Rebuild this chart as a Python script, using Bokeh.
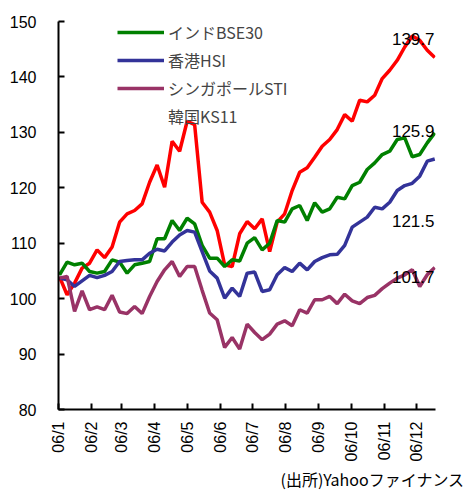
import pandas as pd
from math import pi
from bokeh.plotting import figure
from bokeh.models import (FixedTicker, Legend, LegendItem, Label, Range1d,
                          ColumnDataSource, Title)
from bokeh.embed import file_html
from bokeh.resources import INLINE

# ---- data -------------------------------------------------------------
BASE = pd.Timestamp("2006-01-01")
DATES = pd.date_range("2006-01-02", periods=51, freq="7D")

RED = [103.9, 100.7, 102.8, 105.5, 106.4, 108.8, 107.4, 109.3, 113.8, 115.3,
       115.9, 117.1, 121.0, 124.1, 120.1, 128.4, 126.6, 132.0, 131.4, 117.4,
       115.6, 112.3, 106.1, 105.8, 111.7, 113.9, 112.6, 114.4, 108.5, 113.8,
       115.3, 119.5, 122.8, 123.6, 125.5, 127.5, 128.7, 130.5, 133.2, 132.0,
       135.8, 135.5, 136.7, 139.7, 141.2, 143.0, 145.4, 147.4, 146.6, 144.8,
       143.5]
BSE30 = [104.3, 106.6, 106.1, 106.4, 104.9, 104.6, 104.9, 107.0, 106.6, 104.6,
         106.1, 106.4, 106.7, 110.8, 110.8, 114.1, 112.3, 114.5, 113.5, 109.6,
         107.3, 107.3, 105.8, 107.0, 106.8, 110.0, 111.0, 108.8, 110.0, 114.1,
         113.8, 116.2, 116.8, 114.1, 117.3, 115.6, 116.2, 118.3, 118.0, 120.4,
         121.0, 123.3, 124.5, 126.0, 126.6, 128.7, 129.0, 125.6, 126.0, 128.1,
         129.9]
HSI = [103.7, 103.4, 102.2, 103.2, 104.2, 103.8, 104.2, 104.9, 106.7, 106.9,
       107.0, 107.0, 108.2, 108.9, 108.6, 110.2, 111.5, 112.3, 112.0, 108.5,
       105.0, 103.7, 100.1, 101.9, 100.4, 104.6, 104.8, 101.3, 101.6, 104.3,
       105.6, 104.9, 106.4, 105.2, 106.7, 107.4, 107.9, 108.0, 109.6, 112.9,
       113.8, 114.7, 116.5, 116.2, 117.4, 119.5, 120.4, 120.8, 122.1, 124.8,
       125.2]
STI = [103.7, 104.0, 97.7, 101.4, 98.0, 98.5, 98.0, 100.6, 97.6, 97.3,
       98.6, 97.3, 100.4, 103.1, 105.2, 106.7, 104.0, 105.8, 105.8, 101.5,
       97.4, 96.2, 91.2, 93.0, 90.9, 95.4, 93.9, 92.6, 93.6, 95.4,
       96.0, 95.1, 98.0, 97.4, 99.8, 99.8, 100.4, 99.1, 100.8, 99.6,
       99.1, 100.2, 100.6, 101.8, 102.8, 103.7, 104.3, 105.2, 102.2, 104.3,
       105.6]

LEGEND_LABELS = ["インドBSE30", "香港HSI", "シンガポールSTI", "韓国KS11"]
COLORS = ["#FF0000", "#008000", "#333399", "#993366"]

MONTH_STARTS = ["2006-01-01", "2006-02-01", "2006-03-01", "2006-04-01",
                "2006-05-01", "2006-06-01", "2006-07-01", "2006-08-01",
                "2006-09-01", "2006-10-01", "2006-11-01", "2006-12-01"]
X_TICK_LABELS = ["06/1", "06/2", "06/3", "06/4", "06/5", "06/6",
                 "06/7", "06/8", "06/9", "06/10", "06/11", "06/12"]
Y_TICKS = [80, 90, 100, 110, 120, 130, 140, 150]

END_LABELS = ["139.7", "125.9", "121.5", "101.7"]
SOURCE = "(出所)Yahooファイナンス"

# ---- figure -----------------------------------------------------------
days = [(d - BASE).days for d in DATES]
tick_days = [(pd.Timestamp(m) - BASE).days for m in MONTH_STARTS]

p = figure(width=468, height=490, output_backend="svg", toolbar_location=None,
           title=None, x_range=Range1d(0, 351.7), y_range=Range1d(80, 150))
p.min_border_left = 58
p.min_border_right = 33
p.min_border_top = 21
p.min_border_bottom = 77
p.outline_line_color = None
p.xgrid.visible = False
p.ygrid.visible = False
p.background_fill_color = "white"
p.border_fill_color = "white"

renderers = []
for series, color in zip([RED, BSE30, HSI, STI], COLORS):
    src = ColumnDataSource(dict(x=days, y=series))
    r = p.line("x", "y", source=src, line_color=color, line_width=3.5)
    renderers.append(r)
ks = p.line(x=[], y=[], line_color="white", line_alpha=0, line_width=3.5)

# axes
for ax in (p.xaxis, p.yaxis):
    ax.axis_line_color = "black"
    ax.axis_line_width = 2
    ax.major_tick_line_color = "black"
    ax.major_tick_line_width = 2
    ax.major_tick_in = 6
    ax.major_tick_out = 0
    ax.minor_tick_line_color = None
    ax.major_label_text_font = "Liberation Sans"
    ax.major_label_text_font_size = "16px"
    ax.major_label_text_color = "black"

p.yaxis.ticker = FixedTicker(ticks=Y_TICKS)
p.yaxis.major_label_standoff = 22
p.xaxis.ticker = FixedTicker(ticks=tick_days)
p.xaxis.major_label_overrides = {d: lab for d, lab in zip(tick_days, X_TICK_LABELS)}
p.xaxis.major_label_orientation = pi / 2
p.xaxis.major_label_standoff = 12

# legend
items = [LegendItem(label=lab, renderers=[r])
         for lab, r in zip(LEGEND_LABELS, renderers[1:] + [ks])]
legend = Legend(items=items, location=(59, 281), glyph_width=47, glyph_height=22,
                label_height=22, spacing=4, padding=0, margin=0,
                border_line_alpha=0, background_fill_alpha=0,
                label_text_font="Noto Sans CJK JP", label_text_font_size="16px",
                label_standoff=4)
p.add_layout(legend)

# end value annotations (screen units relative to frame)
end_pos = [(376, 370.5), (376, 278.5), (376, 188.5), (376, 132.5)]
for txt, (sx, sy) in zip(END_LABELS, end_pos):
    p.add_layout(Label(x=sx, y=sy, x_units="screen", y_units="screen", text=txt,
                       text_align="right", text_baseline="middle",
                       text_font="Liberation Sans", text_font_size="17px",
                       text_color="black"))

src_title = Title(text=SOURCE, align="left", offset=222, standoff=0,
                  text_font="Noto Sans CJK JP", text_font_size="16px",
                  text_font_style="normal", text_color="black")
p.add_layout(src_title, "below")

open("out.html", "w").write(file_html(p, INLINE))
